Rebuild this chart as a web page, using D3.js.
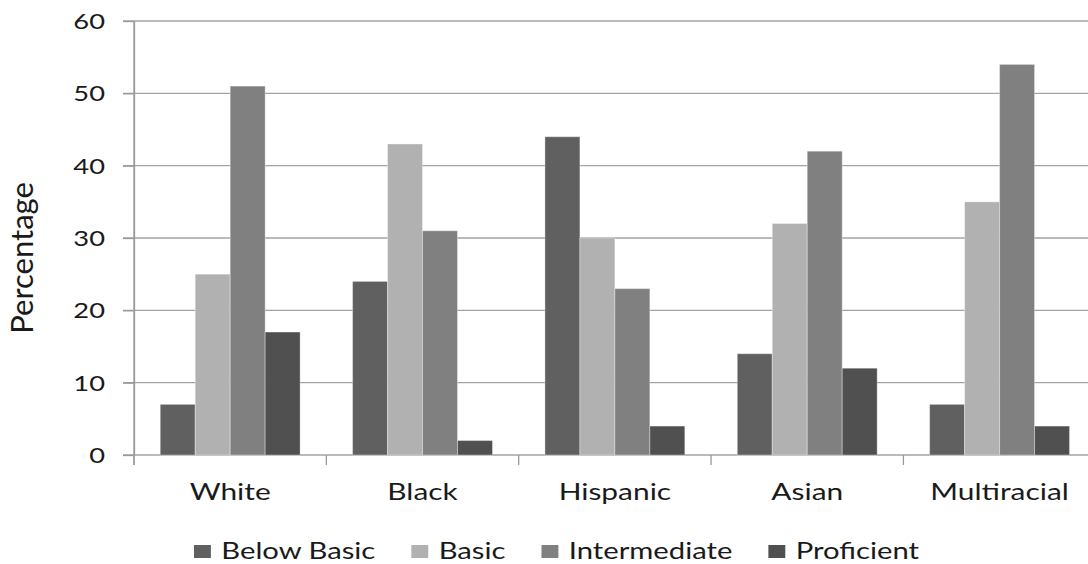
<!DOCTYPE html>
<html>
<head>
<meta charset="utf-8">
<script src="https://cdn.jsdelivr.net/npm/d3@7"></script>
<style>
  body { margin: 0; background: #fff; }
  text { font-family: Lato, "Open Sans", sans-serif; fill: #1a1a1a; }
</style>
</head>
<body>
<div class="chart"></div>
<script>
// chart values
const categories = ["White", "Black", "Hispanic", "Asian", "Multiracial"];
const levels = ["Below Basic", "Basic", "Intermediate", "Proficient"];
const belowBasic = [7, 24, 44, 14, 7];
const basic = [25, 43, 30, 32, 35];
const intermediate = [51, 31, 23, 42, 54];
const proficient = [17, 2, 4, 12, 4];
const yTicks = [0, 10, 20, 30, 40, 50, 60];
const colors = ["#606060", "#b1b1b1", "#808080", "#505050"];

const seriesValues = [belowBasic, basic, intermediate, proficient];
const width = 1088;
const height = 564;
const sx = 1.3; // the text in the picture is stretched sideways

const plotLeft = 134, plotTop = 21, plotBottom = 455;
const step = 192.35;
const plotRight = plotLeft + step * categories.length;

const svg = d3.select('.chart')
    .append('svg')
    .attr('width', width)
    .attr('height', height);

const x = d3.scaleBand().domain(categories).range([plotLeft, plotRight]);
const xInner = d3.scaleBand().domain(levels).range([0, x.bandwidth()])
    .paddingInner(0).paddingOuter(0.75);
const y = d3.scaleLinear().domain([0, 60]).range([plotBottom, plotTop]);

// gridlines (also the zero line), starting at the tick marks
svg.append('g')
    .selectAll('line')
    .data(yTicks)
    .join('line')
    .attr('x1', plotLeft - 11)
    .attr('x2', plotRight)
    .attr('y1', d => y(d))
    .attr('y2', d => y(d))
    .attr('stroke', '#a3a3a3')
    .attr('stroke-width', 1.3);

// y axis
const yAxis = svg.append('g')
    .attr('transform', `translate(${plotLeft},0)`)
    .call(d3.axisLeft(y).tickValues(yTicks).tickSize(11).tickSizeOuter(0));
yAxis.select('.domain').attr('stroke', '#999').attr('stroke-width', 1.3);
yAxis.selectAll('.tick line').attr('stroke', '#999').attr('stroke-width', 1.3);
yAxis.selectAll('.tick text')
    .attr('x', -29 / sx)
    .attr('dy', '0.36em')
    .attr('transform', `scale(${sx},1)`)
    .style('font-size', '21px')
    .style('font-family', 'Lato, sans-serif')
    .attr('fill', '#1a1a1a');
// axis line runs down past zero to the tick
svg.append('line')
    .attr('x1', plotLeft).attr('x2', plotLeft)
    .attr('y1', plotTop).attr('y2', plotBottom + 10)
    .attr('stroke', '#999').attr('stroke-width', 1.3);

// bars
const groups = svg.append('g')
    .selectAll('g')
    .data(categories)
    .join('g')
    .attr('transform', d => `translate(${x(d)},0)`);

groups.selectAll('rect')
    .data((c, i) => levels.map((l, j) => ({level: l, value: seriesValues[j][i], color: colors[j]})))
    .join('rect')
    .attr('x', d => xInner(d.level))
    .attr('y', d => y(d.value))
    .attr('width', xInner.bandwidth())
    .attr('height', d => y(0) - y(d.value))
    .attr('fill', d => d.color)
    .attr('stroke', 'rgba(255,255,255,0.35)')
    .attr('stroke-width', 1);

// x axis ticks at category boundaries
const bounds = categories.map(c => x(c)).concat([plotRight]);
svg.append('g')
    .selectAll('line')
    .data(bounds)
    .join('line')
    .attr('x1', d => d).attr('x2', d => d)
    .attr('y1', plotBottom).attr('y2', plotBottom + 10)
    .attr('stroke', '#999').attr('stroke-width', 1.3);

// category labels
svg.append('g')
    .selectAll('text')
    .data(categories)
    .join('text')
    .attr('text-anchor', 'middle')
    .attr('transform', d => `translate(${x(d) + x.bandwidth() / 2},499.5) scale(${sx},1)`)
    .style('font-size', '23px')
    .text(d => d);

// y axis title
svg.append('text')
    .attr('text-anchor', 'middle')
    .attr('transform', 'translate(33,258) rotate(-90)')
    .style('font-size', '31px')
    .text('Percentage');

// legend
let lx = 194;
levels.forEach((l, j) => {
    const item = svg.append('g')
        .attr('transform', `translate(${lx},0) scale(${sx},1)`);
    item.append('rect')
        .attr('x', 0).attr('y', 545)
        .attr('width', 13).attr('height', 13)
        .attr('fill', colors[j]);
    const t = item.append('text')
        .attr('x', 21)
        .attr('y', 559)
        .style('font-size', '22.5px')
        .text(l);
    const len = t.node().getComputedTextLength();
    lx += (21 + len) * sx + 36;
});
</script>
</body>
</html>
